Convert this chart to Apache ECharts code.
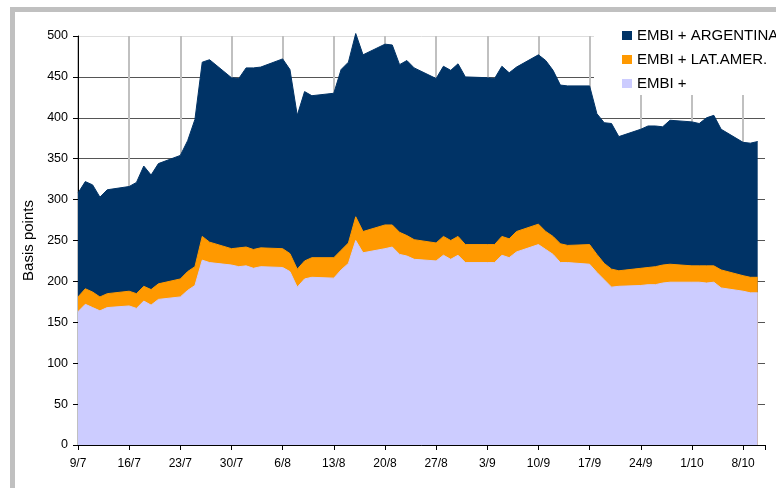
<!DOCTYPE html>
<html>
<head>
<meta charset="utf-8">
<title>EMBI+</title>
<script src="https://cdn.jsdelivr.net/npm/echarts/dist/echarts.min.js"></script>
<style>
  html, body { margin: 0; padding: 0; background: #fff; }
  #main { width: 776px; height: 488px; }
</style>
</head>
<body>
<div id="main"></div>
<script>
    // business days, 2001
    var dates = [
        '2001-07-09', '2001-07-10', '2001-07-11', '2001-07-12', '2001-07-13',
        '2001-07-16', '2001-07-17', '2001-07-18', '2001-07-19', '2001-07-20',
        '2001-07-23', '2001-07-24', '2001-07-25', '2001-07-26', '2001-07-27',
        '2001-07-30', '2001-07-31', '2001-08-01', '2001-08-02', '2001-08-03',
        '2001-08-06', '2001-08-07', '2001-08-08', '2001-08-09', '2001-08-10',
        '2001-08-13', '2001-08-14', '2001-08-15', '2001-08-16', '2001-08-17',
        '2001-08-20', '2001-08-21', '2001-08-22', '2001-08-23', '2001-08-24',
        '2001-08-27', '2001-08-28', '2001-08-29', '2001-08-30', '2001-08-31',
        '2001-09-03', '2001-09-04', '2001-09-05', '2001-09-06', '2001-09-07',
        '2001-09-10', '2001-09-11', '2001-09-12', '2001-09-13', '2001-09-14',
        '2001-09-17', '2001-09-18', '2001-09-19', '2001-09-20', '2001-09-21',
        '2001-09-24', '2001-09-25', '2001-09-26', '2001-09-27', '2001-09-28',
        '2001-10-01', '2001-10-02', '2001-10-03', '2001-10-04', '2001-10-05',
        '2001-10-08', '2001-10-09', '2001-10-10'
    ];

    var argentina = [
        308, 322, 318, 303, 312,
        316, 321, 341, 330, 344,
        354, 372, 398, 468, 471,
        449, 448, 461, 461, 462,
        472, 459, 403, 432, 427,
        430, 459, 468, 503, 477,
        490, 489, 465, 470, 461,
        448, 463, 458, 466, 450,
        449, 448, 463, 455, 462,
        477, 470, 458, 440, 439,
        439, 405, 394, 393, 377,
        386, 390, 390, 389, 397,
        395, 393, 400, 403, 386,
        370, 369, 371
    ];

    var latAmer = [
        181, 191, 187, 181, 185,
        188, 185, 194, 190, 197,
        203, 212, 218, 255, 248,
        240, 241, 242, 239, 241,
        240, 234, 215, 225, 229,
        229, 238, 247, 279, 261,
        269, 269, 260, 256, 251,
        247, 255, 250, 255, 245,
        245, 245, 255, 252, 261,
        270, 261, 255, 246, 244,
        245, 233, 222, 215, 213,
        216, 217, 218, 220, 221,
        219, 219, 219, 219, 214,
        207, 205, 205
    ];

    var embi = [
        163, 172, 168, 164, 168,
        170, 167, 176, 171, 178,
        181, 189, 195, 226, 223,
        220, 218, 219, 216, 218,
        217, 212, 193, 203, 205,
        204, 214, 222, 250, 235,
        240, 242, 233, 231, 227,
        225, 232, 227, 232, 223,
        223, 223, 232, 229, 236,
        245, 239, 233, 223, 223,
        221, 211, 202, 193, 194,
        195, 196, 196, 198, 199,
        199, 199, 198, 199, 192,
        188, 186, 186
    ];

    var seriesNames = ['EMBI + ARGENTINA', 'EMBI + LAT.AMER.', 'EMBI +'];
    var startDate = '2001-07-09';
    var endDate = '2001-10-11';
    var yTicks = [0, 50, 100, 150, 200, 250, 300, 350, 400, 450, 500];

    var DAY = 86400000;
    var FONT = '"Liberation Sans", Arial, sans-serif';

    function toMs(s) {
        var p = s.split('-');
        return Date.UTC(+p[0], +p[1] - 1, +p[2]);
    }

    function dayOffset(s) {
        return Math.round((toMs(s) - toMs(startDate)) / DAY);
    }

    function pairs(values) {
        var out = [];
        for (var i = 0; i < dates.length; i++) {
            out.push([dayOffset(dates[i]), values[i]]);
        }
        return out;
    }

    function areaSeries(name, values, color) {
        return {
            name: name,
            type: 'line',
            data: pairs(values),
            symbol: 'none',
            clip: false,
            silent: true,
            z: 2,
            itemStyle: { color: color },
            lineStyle: { color: color, width: 1 },
            areaStyle: { color: color, opacity: 1 }
        };
    }

    var yStep = yTicks[1] - yTicks[0];
    var yGridColors = [];
    for (var k = 0; k < yTicks.length; k++) {
        yGridColors.push(k === yTicks.length - 1 ? '#dddddd' : '#555555');
    }

    var myChart = echarts.init(document.getElementById('main'), null, { renderer: 'canvas' });

    var option = {
        backgroundColor: '#ffffff',
        animation: false,
        textStyle: { fontFamily: FONT },
        grid: {
            left: 78,
            right: 11,
            top: 36,
            bottom: 43,
            outerBoundsMode: 'none'
        },
        graphic: [
            { type: 'rect', shape: { x: 10, y: 7, width: 5, height: 481 }, style: { fill: '#c0c0c0' } },
            { type: 'rect', shape: { x: 10, y: 7, width: 766, height: 5 }, style: { fill: '#c0c0c0' } }
        ],
        legend: {
            orient: 'vertical',
            left: 594,
            top: 20,
            z: 1,
            padding: [8, 0, 4, 28],
            backgroundColor: '#ffffff',
            itemWidth: 10,
            itemHeight: 9,
            itemGap: 9,
            icon: 'rect',
            selectedMode: false,
            textStyle: { fontSize: 15, color: '#000', fontFamily: FONT },
            data: seriesNames
        },
        xAxis: {
            type: 'value',
            min: 0,
            max: dayOffset(endDate),
            interval: 7,
            axisLine: { show: true, lineStyle: { color: '#000', width: 1 } },
            axisTick: { show: true, inside: false, length: 5, lineStyle: { color: '#000' } },
            axisLabel: {
                fontSize: 12,
                color: '#000',
                margin: 13,
                fontFamily: FONT,
                formatter: function (v) {
                    if (v % 7 !== 0) {
                        return '';
                    }
                    var d = new Date(toMs(startDate) + v * DAY);
                    return d.getUTCDate() + '/' + (d.getUTCMonth() + 1);
                }
            },
            splitLine: {
                show: true,
                showMaxLine: false,
                lineStyle: { color: '#c0c0c0', width: 2 }
            }
        },
        yAxis: {
            type: 'value',
            min: yTicks[0],
            max: yTicks[yTicks.length - 1],
            interval: yStep,
            name: 'Basis points',
            nameLocation: 'middle',
            nameGap: 42,
            nameTextStyle: { fontSize: 15, color: '#000', fontFamily: FONT },
            axisLine: { show: true, lineStyle: { color: '#000', width: 1 } },
            axisTick: { show: true, inside: false, length: 5, lineStyle: { color: '#000' } },
            axisLabel: { fontSize: 12.5, color: '#000', margin: 10, fontFamily: FONT },
            splitLine: {
                show: true,
                lineStyle: { color: yGridColors, width: 1 }
            }
        },
        series: [
            areaSeries(seriesNames[0], argentina, '#003366'),
            areaSeries(seriesNames[1], latAmer, '#ff9900'),
            areaSeries(seriesNames[2], embi, '#ccccff')
        ]
    };

    myChart.setOption(option);
</script>
</body>
</html>
